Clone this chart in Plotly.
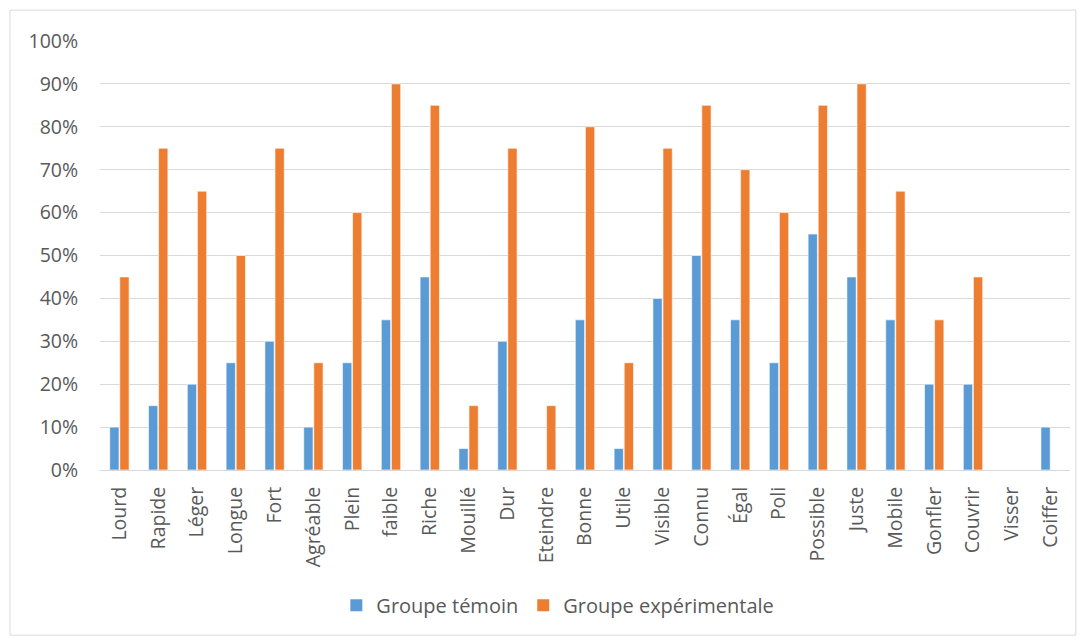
import plotly.graph_objects as go

# data
mots = ["Lourd", "Rapide", "Léger", "Longue", "Fort", "Agréable", "Plein", "faible",
        "Riche", "Mouillé", "Dur", "Eteindre", "Bonne", "Utile", "Visible", "Connu",
        "Égal", "Poli", "Possible", "Juste", "Mobile", "Gonfler", "Couvrir", "Visser",
        "Coiffer"]
temoin = [0.10, 0.15, 0.20, 0.25, 0.30, 0.10, 0.25, 0.35, 0.45, 0.05, 0.30, 0.00, 0.35,
          0.05, 0.40, 0.50, 0.35, 0.25, 0.55, 0.45, 0.35, 0.20, 0.20, 0.00, 0.10]
experimental = [0.45, 0.75, 0.65, 0.50, 0.75, 0.25, 0.60, 0.90, 0.85, 0.15, 0.75, 0.15,
                0.80, 0.25, 0.75, 0.85, 0.70, 0.60, 0.85, 0.90, 0.65, 0.35, 0.45, 0.00,
                0.00]
y_ticks = [0, 0.1, 0.2, 0.3, 0.4, 0.5, 0.6, 0.7, 0.8, 0.9, 1.0]

font_col = "#595959"
fnt = "Open Sans, Noto Sans, sans-serif"
series = [("Groupe témoin", temoin, "#5B9BD5"),
          ("Groupe expérimentale", experimental, "#ED7D31")]

fig = go.Figure()
for name, vals, col in series:
    fig.add_trace(go.Bar(x=mots, y=vals, name=name, showlegend=False,
                         marker=dict(color=col, line=dict(color="white", width=0.6))))
# legend entries with bigger square keys, like Excel
for name, vals, col in series:
    fig.add_trace(go.Scatter(x=[None], y=[None], mode="markers", name=name,
                             marker=dict(symbol="square", size=12, color=col)))

# outer chart frame, Excel style
fig.add_shape(type="rect", xref="paper", yref="paper",
              x0=-0.0928, x1=1.006, y0=-0.385, y1=1.072,
              line=dict(color="#D9D9D9", width=1), fillcolor="rgba(0,0,0,0)")

# page body adds 8px, so figure is 8px smaller
fig.update_layout(
    width=1078, height=635,
    margin=dict(l=92, r=16, t=33, b=173),
    paper_bgcolor="white", plot_bgcolor="white",
    font=dict(family=fnt, color=font_col, size=19),
    barmode="group", bargap=0.48, bargroupgap=0.08,
    showlegend=True,
    legend=dict(orientation="h", x=0.472, xanchor="center", y=-0.315, yanchor="middle",
                font=dict(size=20, color=font_col), itemwidth=30,
                traceorder="normal"),
    xaxis=dict(tickangle=-90, tickfont=dict(size=19.5, color=font_col),
               showline=True, linecolor="#D9D9D9", linewidth=1,
               ticks="outside", ticklen=8, tickcolor="white",
               showgrid=False),
    yaxis=dict(range=[0, 1.0], tickvals=y_ticks, tickformat=".0%",
               tickfont=dict(size=19.5, color=font_col),
               gridcolor="#D9D9D9", gridwidth=1, showline=False, zeroline=False,
               ticks="outside", ticklen=17, tickcolor="white"),
)

fig.write_html("out.html")
